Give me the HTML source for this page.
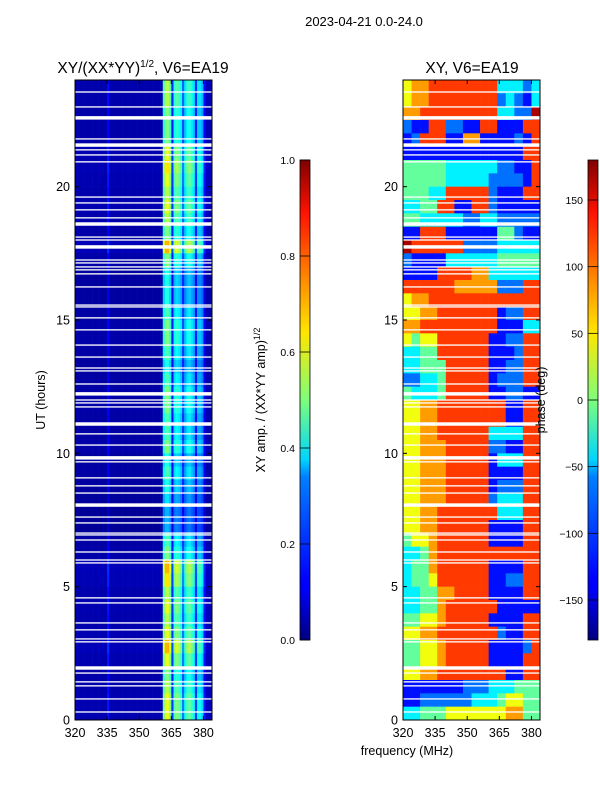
<!DOCTYPE html>
<html><head><meta charset="utf-8"><style>
html,body{margin:0;padding:0;background:#fff;}
svg{display:block;font-family:"Liberation Sans","DejaVu Sans",sans-serif;}
</style></head><body>
<svg id="fig" width="600" height="800" viewBox="0 0 600 800" xmlns="http://www.w3.org/2000/svg">
<defs>
<linearGradient id="jet" x1="0" y1="1" x2="0" y2="0">
<stop offset="0" stop-color="#00007f"/><stop offset="0.11" stop-color="#0000ff"/><stop offset="0.125" stop-color="#0000ff"/>
<stop offset="0.34" stop-color="#0080ff"/><stop offset="0.375" stop-color="#00d4ff"/><stop offset="0.5" stop-color="#7dff7a"/>
<stop offset="0.64" stop-color="#ffe600"/><stop offset="0.75" stop-color="#ff8c00"/><stop offset="0.89" stop-color="#ff1200"/><stop offset="1" stop-color="#7f0000"/>
</linearGradient>
</defs>
<text x="364" y="26" font-size="13" text-anchor="middle">2023-04-21 0.0-24.0</text>
<text x="143" y="73" font-size="15.5" text-anchor="middle">XY/(XX*YY)<tspan dy="-6" font-size="10">1/2</tspan><tspan dy="6">, V6=EA19</tspan></text>
<text x="472" y="73" font-size="15.5" text-anchor="middle">XY, V6=EA19</text>
<g id="leftHeat"></g>
<g id="rightHeat"></g>
<g id="axes"></g>
<rect x="300" y="160" width="10" height="480" fill="url(#jet)" stroke="#000" stroke-width="0.8"/>
<rect x="588" y="160" width="10" height="480" fill="url(#jet)" stroke="#000" stroke-width="0.8"/>
<g id="cbticks"></g>
<text transform="translate(45,400) rotate(-90)" font-size="12.5" text-anchor="middle">UT (hours)</text>
<text transform="translate(265,400) rotate(-90)" font-size="12.5" text-anchor="middle">XY amp. / (XX*YY amp)<tspan dy="-5" font-size="9">1/2</tspan></text>
<text transform="translate(545,400) rotate(-90)" font-size="12.5" text-anchor="middle">phase (deg)</text>
<text x="407" y="755" font-size="12.5" text-anchor="middle">frequency (MHz)</text>
</svg>
<script>
// ---- data ----
var freqTicks = [320, 335, 350, 365, 380];
var hourTicks = [0, 5, 10, 15, 20];
var ampTicks = [0.0, 0.2, 0.4, 0.6, 0.8, 1.0];
var phaseTicks = [-150, -100, -50, 0, 50, 100, 150];
// amplitude profile per 1 MHz channel, 320..383
var ampChannel = [0.04,0.04,0.04,0.04,0.04,0.04,0.04,0.04,0.04,0.04,0.04,0.04,0.04,0.04,0.04,0.12,0.04,0.04,0.04,0.04,
0.04,0.04,0.04,0.04,0.04,0.04,0.04,0.04,0.04,0.04,0.04,0.04,0.04,0.04,0.04,0.04,0.04,0.04,0.04,0.04,0.05,
0.42,0.5,0.5,0.42,0.15,0.38,0.42,0.4,0.36,0.2,0.32,0.38,0.4,0.36,0.32,0.15,0.32,0.32,0.28,0.12,0.05,0.05,0.05];
// amplitude row scaling per half hour, top (24h) to bottom (0h)
var ampRow = [1.1,1.1,1.0,1.0,1.0,1.2,1.3,1.2,1.1,1.2,1.1,1.0,1.4,1.0,0.8,0.8,0.8,0.9,1.0,1.0,0.9,0.8,0.9,1.0,
1.0,0.9,0.9,1.0,0.8,0.9,0.8,0.7,0.6,0.6,0.9,1.0,1.4,1.3,1.1,1.2,1.1,1.2,1.4,1.2,1.0,1.1,1.2,1.2];
// phase level table (deg) indexed by digit
var phaseLevels = [-170, -130, -95, -50, -10, 40, 80, 115, 165];
// phase grid: 48 half-hour rows (top to bottom) x 16 channels of 4 MHz
var phaseRows = ["5667777777733323","5667777777723213","6677777777733228","2117722117711177","1277711661111217",
"1111111111111177","4444433333322117","4444433333222217","4443377777211177","3344771177211111","4433333223322222",
"1177711111144211","8777777222233333","2111133333344444","1111777766333333","7777776666622277","5667777777777777",
"5566777777712277","6677777777711133","5455777777112277","3344777777111277","3344477777112277","2233477777122277",
"4333477777112211","5566777777771177","5566777777771177","5566777777333377","5566677777221177","5566677777133377",
"5566677777111177","5566677777122277","5566677777233377","5566777777733377","5566777777111177","4556777777111177",
"3346777777777777","3446777777111177","3445777777112277","3344667777111177","3344677777711111","4455677777111177",
"5566777777721177","4455677777111127","4455677777111177","5566777777771177","1111111222333444","1122222233345544",
"3344455555556644"];
// flagged (white) rows: hour and thickness in hours
var gapHours = [23.55,22.99,22.58,21.79,21.56,21.38,21.19,20.93,19.61,19.39,19.13,18.83,18.6,18.11,18.0,17.74,17.25,17.14,16.99,16.88,16.73,16.24,15.56,15.49,15.08,14.63,14.06,13.61,13.2,13.09,12.6,12.23,12.0,11.89,11.74,11.1,10.73,10.31,9.83,9.68,9.08,8.78,8.51,8.06,7.61,7.39,7.01,6.94,6.75,6.3,6.0,5.89,4.58,4.39,3.64,3.38,3.04,2.93,1.95,1.76,1.43,1.28,0.79,0.3];
var gapWidth = [0.05,0.05,0.13,0.05,0.13,0.05,0.05,0.05,0.05,0.05,0.05,0.05,0.13,0.05,0.05,0.13,0.05,0.05,0.05,0.05,0.05,0.05,0.05,0.05,0.05,0.05,0.05,0.05,0.05,0.05,0.05,0.13,0.05,0.05,0.05,0.13,0.05,0.05,0.13,0.05,0.05,0.05,0.05,0.13,0.05,0.05,0.05,0.05,0.05,0.05,0.05,0.05,0.05,0.05,0.05,0.05,0.05,0.05,0.13,0.05,0.05,0.05,0.05,0.05];

var NS = "http://www.w3.org/2000/svg";
var FMIN = 320, FMAX = 384, HMIN = 0, HMAX = 24, Y0 = 80, Y1 = 720;
var panels = [{x0:75, x1:212}, {x0:403, x1:540}];
function xs(p, f){ return p.x0 + (f - FMIN) / (FMAX - FMIN) * (p.x1 - p.x0); }
function ys(h){ return Y1 - (h - HMIN) / (HMAX - HMIN) * (Y1 - Y0); }
function ampY(v){ return 640 - v * 480; }
function phaseY(v){ return 400 - v / 180 * 240; }
function jet(v){
  v = Math.max(0, Math.min(1, v));
  function c(x){ return Math.round(255 * Math.max(0, Math.min(1, x))); }
  var r = c(Math.min(4*v - 1.5, -4*v + 4.5));
  var g = c(Math.min(4*v - 0.5, -4*v + 3.5));
  var b = c(Math.min(4*v + 0.5, -4*v + 2.5));
  return "rgb(" + r + "," + g + "," + b + ")";
}
function mk(tag, attrs, parent){ var e = document.createElementNS(NS, tag); for (var k in attrs) e.setAttribute(k, attrs[k]); parent.appendChild(e); return e; }

// left heatmap
var L = document.getElementById("leftHeat");
for (var r = 0; r < ampRow.length; r++) {
  var hTop = HMAX - r * 0.5, hBot = hTop - 0.5;
  for (var c = 0; c < ampChannel.length; c++) {
    var v = Math.min(1, ampChannel[c] * ampRow[r]);
    var e = mk("rect", {x: xs(panels[0], FMIN + c).toFixed(2), y: ys(hTop).toFixed(2), width: (xs(panels[0], FMIN + c + 1) - xs(panels[0], FMIN + c) + 0.3).toFixed(2), height: (ys(hBot) - ys(hTop) + 0.3).toFixed(2), fill: jet(v)}, L);
    
    
  }
}
// right heatmap
var R = document.getElementById("rightHeat");
for (var r2 = 0; r2 < phaseRows.length; r2++) {
  var hT = HMAX - r2 * 0.5, hB = hT - 0.5;
  for (var c2 = 0; c2 < 16; c2++) {
    var ph = phaseLevels[parseInt(phaseRows[r2].charAt(c2), 10)];
    var e2 = mk("rect", {x: xs(panels[1], FMIN + 4*c2).toFixed(2), y: ys(hT).toFixed(2), width: (xs(panels[1], FMIN + 4*c2 + 4) - xs(panels[1], FMIN + 4*c2) + 0.3).toFixed(2), height: (ys(hB) - ys(hT) + 0.3).toFixed(2), fill: jet((ph + 180) / 360)}, R);
    
    
  }
}
// gaps
var A = document.getElementById("axes");
panels.forEach(function(p, pi){
  for (var i = 0; i < gapHours.length; i++) {
    var g = mk("rect", {x: p.x0, y: ys(gapHours[i] + gapWidth[i]/2).toFixed(2), width: p.x1 - p.x0, height: Math.max(1.2, ys(0) - ys(gapWidth[i])).toFixed(2), fill: "#fff"}, A);
    
    
  }
  var fr = mk("rect", {x: p.x0, y: Y0, width: p.x1 - p.x0, height: Y1 - Y0, fill: "none", stroke: "#000", "stroke-width": 1}, A);
  
  
  freqTicks.forEach(function(f){
    var x = xs(p, f);
    mk("line", {x1: x, x2: x, y1: Y1, y2: Y1 - 4, stroke: "#000"}, A);
    mk("line", {x1: x, x2: x, y1: Y0, y2: Y0 + 4, stroke: "#000"}, A);
    var t = mk("text", {x: x, y: Y1 + 17, "font-size": 12.5, "text-anchor": "middle"}, A);
    t.textContent = f;
    
    
  });
  hourTicks.forEach(function(h){
    var y = ys(h);
    mk("line", {x1: p.x0, x2: p.x0 + 4, y1: y, y2: y, stroke: "#000"}, A);
    mk("line", {x1: p.x1, x2: p.x1 - 4, y1: y, y2: y, stroke: "#000"}, A);
    var t = mk("text", {x: p.x0 - 5, y: y + 4.5, "font-size": 12.5, "text-anchor": "end"}, A);
    t.textContent = h;
    
    
  });
});
// colorbar ticks
var CB = document.getElementById("cbticks");
ampTicks.forEach(function(v){
  var y = ampY(v);
  mk("line", {x1: 300, x2: 310, y1: y, y2: y, stroke: "#000", "stroke-width": 0.8}, CB);
  var t = mk("text", {x: 295, y: y + 4, "font-size": 10.5, "text-anchor": "end"}, CB);
  t.textContent = v.toFixed(1);
  
  
});
phaseTicks.forEach(function(v){
  var y = phaseY(v);
  mk("line", {x1: 588, x2: 598, y1: y, y2: y, stroke: "#000", "stroke-width": 0.8}, CB);
  var t = mk("text", {x: 583, y: y + 4, "font-size": 10.5, "text-anchor": "end"}, CB);
  t.textContent = v < 0 ? "\u2212" + Math.abs(v) : String(v);
  
  
});
</script>
</body></html>
